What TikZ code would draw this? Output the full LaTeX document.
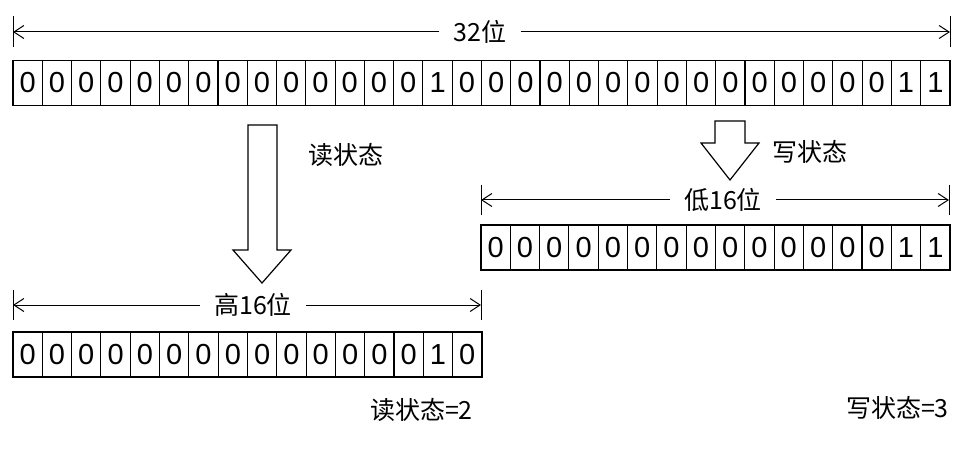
\documentclass[tikz,border=0pt]{standalone}
\usepackage{fontspec}
\setmainfont{Noto Sans CJK SC}
\newfontfamily\digitfont{Liberation Sans}
\usetikzlibrary{arrows.meta}
\tikzset{
  bitcell/.style={draw,line width=1.1pt,minimum width=29.3pt,minimum height=45pt,inner sep=0pt,font=\digitfont\fontsize{29}{29}\selectfont},
  dimlabel/.style={inner xsep=14pt,inner ysep=0pt,font=\fontsize{25}{25}\selectfont},
  dimline/.style={line width=1pt,-{Straight Barb[length=10pt,width=13pt]}},
  endtick/.style={line width=1pt},
  bigarrow/.style={draw,line width=1.2pt,fill=white,line join=miter},
  note/.style={inner sep=0pt,font=\fontsize{25}{25}\selectfont}
}
\begin{document}
\begin{tikzpicture}[x=1pt,y=-1pt]
  \useasboundingbox (0,0) rectangle (976,470);
  % 32-bit row with dimension line
  \coordinate (l32) at (13,32);
  \coordinate (r32) at (950,32);
  \node[dimlabel] (d32) at (480,32) {32位};
  \draw[dimline] (d32.west) -- (l32);
  \draw[dimline] (d32.east) -- (r32);
  \draw[endtick] ([yshift=16pt]l32) -- ([yshift=-15pt]l32);
  \draw[endtick] ([yshift=16pt]r32) -- ([yshift=-15pt]r32);
  \foreach \b [count=\i] in {0,0,0,0,0,0,0,0,0,0,0,0,0,0,1,0,0,0,0,0,0,0,0,0,0,0,0,0,0,0,1,1}
    \node[bitcell] (t\i) at ({13+(\i-0.5)*29.28},83) {\b};
  % read arrow down to the high half
  \draw[bigarrow] (248,125) -- (277,125) -- (277,250) -- (291,250) -- (262,283)
    -- (233,250) -- (248,250) -- cycle;
  \node[note] (rd) at (346,155) {读状态};
  % write arrow down to the low half
  \draw[bigarrow] (715,121) -- (745,121) -- (745,143) -- (759,143) -- (730,180)
    -- (701,143) -- (715,143) -- cycle;
  \node[note] (wr) at (810,152) {写状态};
  % low 16 bits
  \coordinate (llo) at (481,200);
  \coordinate (rlo) at (949,200);
  \node[dimlabel] (dlo) at (723,200) {低16位};
  \draw[dimline] (dlo.west) -- (llo);
  \draw[dimline] (dlo.east) -- (rlo);
  \draw[endtick] ([yshift=15pt]llo) -- ([yshift=-15pt]llo);
  \draw[endtick] ([yshift=15pt]rlo) -- ([yshift=-15pt]rlo);
  \foreach \b [count=\i] in {0,0,0,0,0,0,0,0,0,0,0,0,0,0,1,1}
    \node[bitcell] (lo\i) at ({481+(\i-0.5)*29.31},247.5) {\b};
  % high 16 bits
  \coordinate (lhi) at (13,305);
  \coordinate (rhi) at (481,305);
  \node[dimlabel] (dhi) at (253,305) {高16位};
  \draw[dimline] (dhi.west) -- (lhi);
  \draw[dimline] (dhi.east) -- (rhi);
  \draw[endtick] ([yshift=15pt]lhi) -- ([yshift=-15pt]lhi);
  \draw[endtick] ([yshift=15pt]rhi) -- ([yshift=-15pt]rhi);
  \foreach \b [count=\i] in {0,0,0,0,0,0,0,0,0,0,0,0,0,0,1,0}
    \node[bitcell] (hi\i) at ({13+(\i-0.5)*29.31},354.5) {\b};
  % results
  \node[note,anchor=east] (rdval) at (473,410) {读状态=2};
  \node[note,anchor=east] (wrval) at (949,408) {写状态=3};
\end{tikzpicture}
\end{document}
